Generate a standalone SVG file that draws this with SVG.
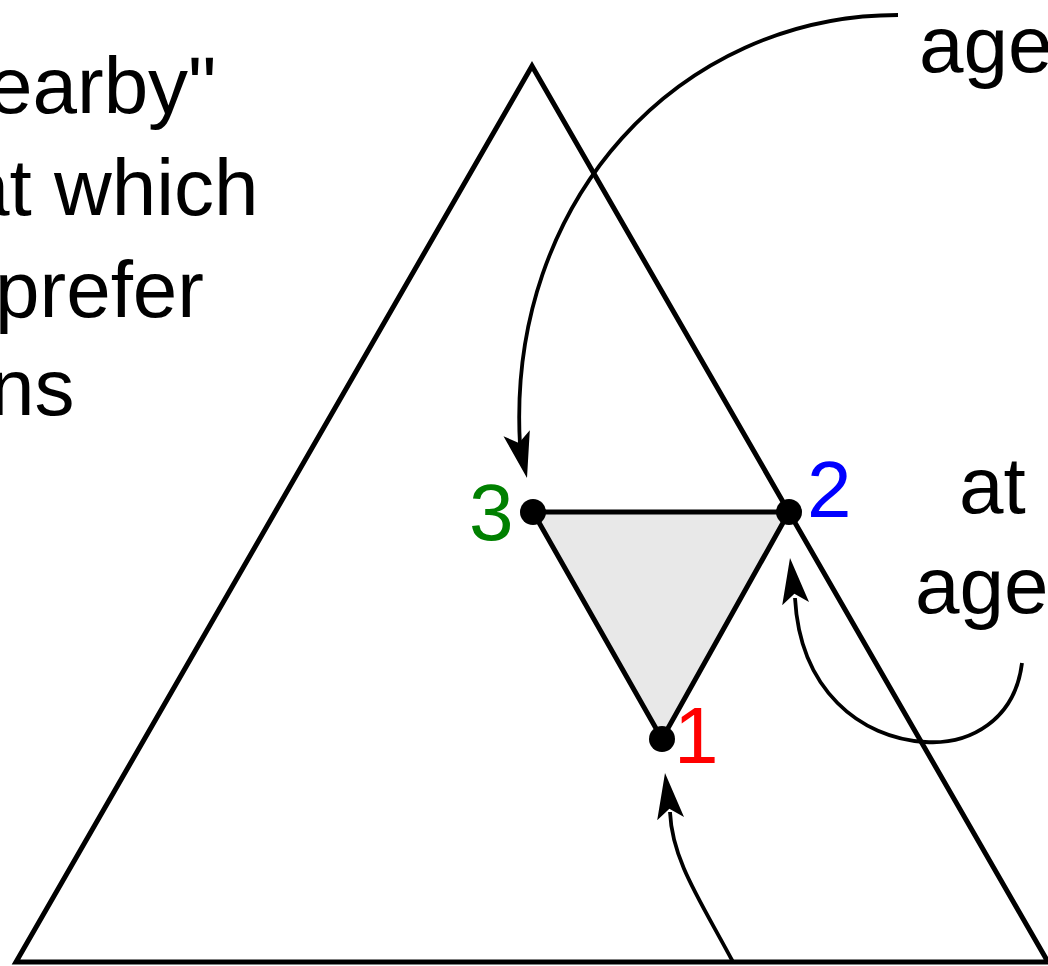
<svg xmlns="http://www.w3.org/2000/svg" xmlns:xlink="http://www.w3.org/1999/xlink" width="1048" height="966" viewBox="0 0 1048 966">
<style>
  .txt { font-family: "Liberation Sans", Arial, sans-serif; font-size: 80px; fill: #000; }
  .edge { fill: none; stroke: #000; stroke-width: 5; stroke-linejoin: miter; }
  .conn { fill: none; stroke: #000; stroke-width: 3.8; }
  .dot { fill: #000; }
</style>
<defs>
  <path id="ah" d="M0,0 L-46,-13.5 L-36,0 L-46,13.5 Z" fill="#000"/>
</defs>
<rect width="1048" height="966" fill="#fff"/>
<g id="big-triangle">
  <polygon class="edge" points="532,66 16,962 1048,962"/>
</g>
<g id="small-triangle">
  <polygon class="edge" points="533,512 789,512 662,739" style="fill:#e8e8e8"/>
</g>
<g id="connectors">
  <path class="conn" d="M898,15 C680,15 506,200 520,445"/>
  <use xlink:href="#ah" transform="translate(527,478) rotate(77)"/>
  <path class="conn" d="M1022,663 C1015,720 970,745 925,742 C860,738 800,690 795,598"/>
  <use xlink:href="#ah" transform="translate(790,558) rotate(-97)"/>
  <path class="conn" d="M733,962 C700,900 672,860 670,812"/>
  <use xlink:href="#ah" transform="translate(665,773) rotate(-97)"/>
</g>
<g id="node-3">
  <circle class="dot" cx="533" cy="512" r="13"/>
  <text class="txt" x="469" y="540" style="fill:#008000">3</text>
</g>
<g id="node-2">
  <circle class="dot" cx="789" cy="512" r="13"/>
  <text class="txt" x="807" y="517" style="fill:#0000ff">2</text>
</g>
<g id="node-1">
  <circle class="dot" cx="662" cy="739" r="13"/>
  <text class="txt" x="674" y="763" style="fill:#ff0000">1</text>
</g>
<g id="left-label">
  <text class="txt" x="-12" y="113">earby"</text>
  <text class="txt" x="-35" y="215">at which</text>
  <text class="txt" x="-5" y="317">prefer</text>
  <text class="txt" x="-10" y="415">ns</text>
</g>
<g id="top-right-label">
  <text class="txt" x="919" y="72">age</text>
</g>
<g id="right-label">
  <text class="txt" x="959" y="513">at</text>
  <text class="txt" x="915" y="613">age</text>
</g>
</svg>
